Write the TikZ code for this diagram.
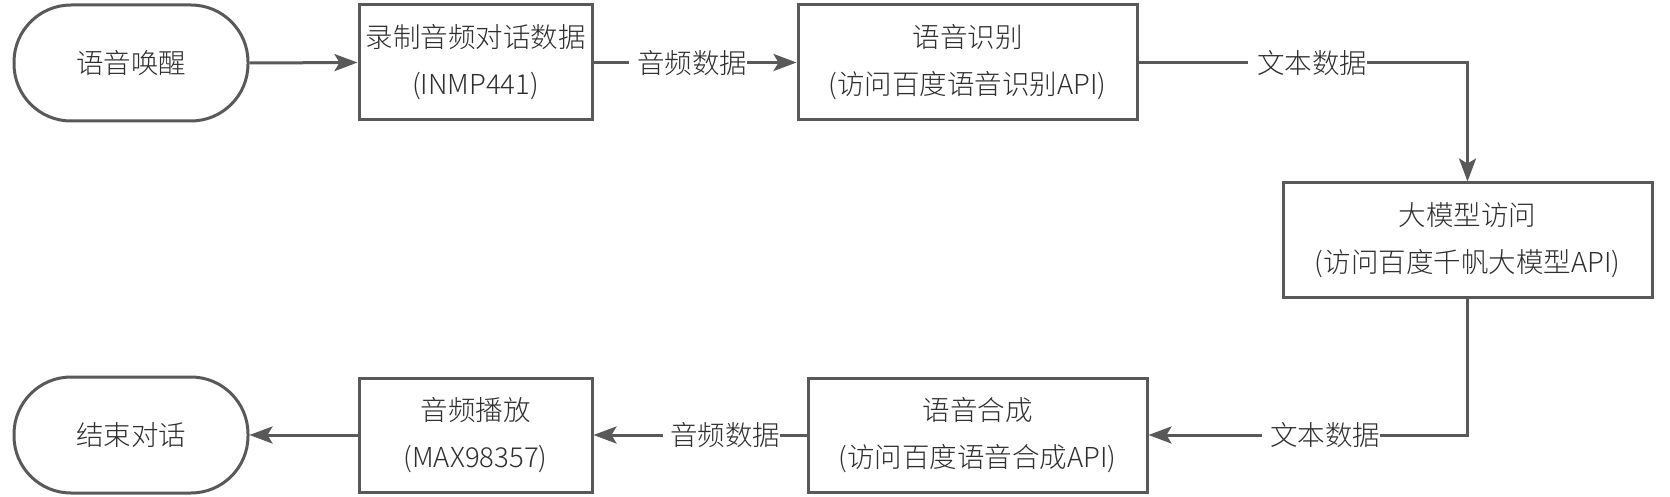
\documentclass[tikz,border=0pt]{standalone}
\usepackage{fontspec}
\setmainfont{Noto Sans CJK SC}
\newfontfamily\cjkfont{Noto Sans CJK SC}[UprightFont=* Light]
\usetikzlibrary{arrows.meta}
\definecolor{linec}{HTML}{595959}
\definecolor{textc}{HTML}{2E2E2E}
\begin{document}
\begin{tikzpicture}[x=1pt,y=-1pt,
  every node/.style={text=textc, font=\cjkfont\fontsize{27.5}{47}\selectfont},
  box/.style={draw=linec, line width=3pt, rectangle, fill=white, align=center, inner sep=0pt},
  term/.style={box, rounded corners=57pt},
  conn/.style={draw=linec, line width=3pt, -{Stealth[length=23pt,width=17pt,inset=5pt]}},
  lbl/.style={fill=white, inner sep=0pt, anchor=west, minimum height=30pt}
]
\useasboundingbox (0,0) rectangle (1670,497);
\node[term, minimum width=234pt, minimum height=116pt] (wake) at (131,63) {语音唤醒};
\node[box, minimum width=233pt, minimum height=115pt] (rec) at (475.5,62.5) {录制音频对话数据\\(INMP441)};
\node[box, minimum width=339pt, minimum height=115pt] (asr) at (967.5,62.5) {语音识别\\(访问百度语音识别API)};
\node[box, minimum width=369pt, minimum height=114pt] (llm) at (1467.5,240) {大模型访问\\(访问百度千帆大模型API)};
\node[box, minimum width=339pt, minimum height=114pt] (tts) at (977.5,435) {语音合成\\(访问百度语音合成API)};
\node[box, minimum width=233pt, minimum height=114pt] (play) at (475.5,435) {音频播放\\(MAX98357)};
\node[term, minimum width=234pt, minimum height=116pt] (end) at (131,435) {结束对话};

\draw[conn] (wake.east) -- (rec.west);
\draw[conn] (rec.east) -- (asr.west);
\draw[conn] (asr.east) -| (llm.north);
\draw[conn] (llm.south) |- (tts.east);
\draw[conn] (tts.west) -- (play.east);
\draw[conn] (play.west) -- (end.east);

\node[lbl] (l1) at (629,63) {\hspace{8pt}音频数据\hspace{-10pt}};
\node[lbl] (l2) at (1248,63) {\hspace{9pt}文本数据\hspace{-10pt}};
\node[lbl] (l3) at (1262,435) {\hspace{8pt}文本数据\hspace{-10pt}};
\node[lbl] (l4) at (663,435) {\hspace{7pt}音频数据\hspace{-10pt}};
\end{tikzpicture}
\end{document}
